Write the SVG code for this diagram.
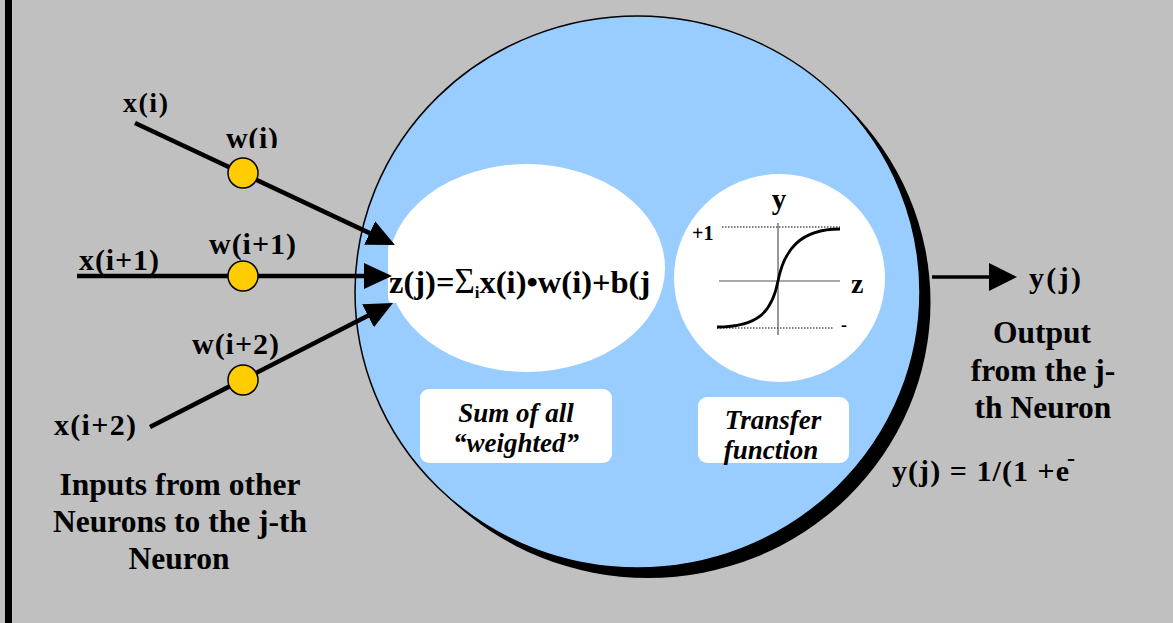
<svg xmlns="http://www.w3.org/2000/svg" width="1173" height="623" viewBox="0 0 1173 623">
<style>
text{font-family:"Liberation Serif","Times New Roman",serif;font-weight:bold;fill:#000}
.lbl{font-size:30px}
.big{font-size:31.5px;text-anchor:middle}
.box{font-size:27px;font-style:italic;text-anchor:middle}
.conn{stroke:#000;stroke-width:4.5;fill:none}
.wt{fill:#FFCC00;stroke:#000;stroke-width:1.5}
.axis{stroke:#555;stroke-width:1.2}
.dot{stroke:#000;stroke-width:1;stroke-dasharray:1.5 1.5}
</style>
<defs>
<marker id="ah" markerUnits="userSpaceOnUse" markerWidth="30" markerHeight="28" refX="13" refY="13" orient="auto">
<path d="M0,0 L28,13 L0,26 z" fill="#000"/>
</marker>
<marker id="ao" markerUnits="userSpaceOnUse" markerWidth="30" markerHeight="30" refX="13" refY="14" orient="auto">
<path d="M0,0 L28,14 L0,28 z" fill="#000"/>
</marker>
<clipPath id="cw"><rect x="200" y="115" width="100" height="33"/></clipPath>
<clipPath id="cy"><rect x="1020" y="255" width="80" height="39"/></clipPath>
</defs>
<rect x="0" y="0" width="1173" height="623" fill="#C0C0C0"/>
<rect x="5" y="0" width="7" height="623" fill="#000"/>

<g id="neuron">
<ellipse cx="648" cy="302" rx="282.5" ry="276" fill="#000"/>
<ellipse cx="637.5" cy="292" rx="282.5" ry="276" fill="#99CCFF" stroke="#000" stroke-width="1.5"/>
</g>

<g id="sum">
<ellipse cx="526.5" cy="268" rx="138.5" ry="104" fill="#fff"/>
<rect x="388" y="243" width="250" height="60" rx="5" fill="#fff"/>
<text x="389" y="293" font-size="32.5">z(j)=<tspan font-weight="normal" font-size="35">Σ</tspan><tspan font-size="17" dy="5">i</tspan><tspan dy="-5">x(i)•w(i)+b(j</tspan></text>
</g>

<g id="transfer">
<ellipse cx="779.5" cy="278" rx="105.5" ry="104" fill="#fff"/>
<line class="dot" x1="722" y1="227" x2="840" y2="227"/>
<line class="dot" x1="717" y1="328" x2="833" y2="328"/>
<line class="axis" x1="778" y1="223" x2="778" y2="335"/>
<line class="axis" x1="719" y1="281" x2="840" y2="281"/>
<path d="M717,327 C758,327 772,312 778,281 C784,250 800,229 840,229" fill="none" stroke="#000" stroke-width="2.8"/>
<text x="779" y="209" font-size="29" text-anchor="middle">y</text>
<text x="692" y="240" font-size="20">+1</text>
<text x="851" y="293" font-size="28">z</text>
<text x="841" y="331" font-size="18">-</text>
</g>

<g id="sumLabel">
<rect x="420" y="389" width="192" height="74" rx="9" fill="#fff"/>
<text class="box" x="516" y="422">Sum of all</text>
<text class="box" x="516" y="452">“weighted”</text>
</g>

<g id="transferLabel">
<rect x="698" y="397" width="151" height="66" rx="9" fill="#fff"/>
<text class="box" x="773" y="429">Transfer</text>
<text class="box" x="771" y="459">function</text>
</g>

<g id="connectors">
<line class="conn" x1="135" y1="123" x2="381.4" y2="238.6" marker-end="url(#ah)"/>
<line class="conn" x1="77" y1="276" x2="377" y2="276" marker-end="url(#ah)"/>
<line class="conn" x1="150" y1="427" x2="379.6" y2="309.8" marker-end="url(#ah)"/>
<line x1="932" y1="277" x2="1002" y2="277" stroke="#000" stroke-width="3.5" marker-end="url(#ao)"/>
</g>

<g id="weights">
<circle class="wt" cx="243" cy="173" r="15"/>
<circle class="wt" cx="243" cy="276" r="15"/>
<circle class="wt" cx="243" cy="380" r="15"/>
</g>

<g id="inputs">
<text x="123" y="112" font-size="28" textLength="45" lengthAdjust="spacing">x(i)</text>
<text class="lbl" x="226" y="148" textLength="52" lengthAdjust="spacing" clip-path="url(#cw)">w(i)</text>
<text class="lbl" x="79" y="270" textLength="80" lengthAdjust="spacing">x(i+1)</text>
<text class="lbl" x="209" y="254" textLength="87" lengthAdjust="spacing">w(i+1)</text>
<text class="lbl" x="192" y="354" textLength="87" lengthAdjust="spacing">w(i+2)</text>
<text class="lbl" x="54" y="435" textLength="82" lengthAdjust="spacing">x(i+2)</text>
<text class="big" x="180" y="495">Inputs from other</text>
<text class="big" x="180" y="532">Neurons to the j-th</text>
<text class="big" x="179" y="569">Neuron</text>
</g>

<g id="output">
<text class="lbl" x="1029" y="288" textLength="52" lengthAdjust="spacing" clip-path="url(#cy)">y(j)</text>
<text class="big" x="1042" y="343">Output</text>
<text class="big" x="1043" y="381">from the j-</text>
<text class="big" x="1043" y="418">th Neuron</text>
<text x="892" y="481" font-size="30" textLength="177" lengthAdjust="spacing">y(j) = 1/(1 +e</text>
<text x="1067" y="466" font-size="24">-</text>
</g>
</svg>
